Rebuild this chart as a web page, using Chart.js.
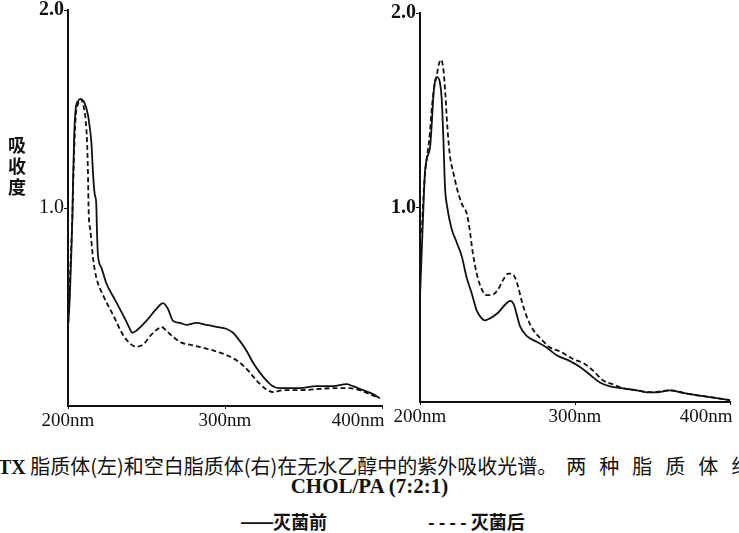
<!DOCTYPE html>
<html>
<head>
<meta charset="utf-8">
<script src="https://cdn.jsdelivr.net/npm/chart.js@4.4.0/dist/chart.umd.min.js"></script>
<style>
  html, body { margin: 0; padding: 0; background: #fff; }
  body { width: 739px; height: 533px; position: relative; overflow: hidden; color: #111; }
  .panel { position: absolute; top: 0; height: 430px; }
  #leftWrap { left: 0; width: 400px; }
  #rightWrap { left: 380px; width: 359px; }
  #yTitle {
    position: absolute; left: 7px; top: 134px; width: 20px;
    font: bold 18px "Noto Sans CJK SC"; line-height: 21px; text-align: center;
  }
  .cap { position: absolute; white-space: nowrap; }
  #cap1 { left: -2px; top: 456px; font: 20px "Noto Sans CJK SC"; line-height: 20px; }
  #cap1 .lat { font-family: "Liberation Serif"; font-weight: bold; }
  #cap1 .spaced { letter-spacing: 13px; margin-left: 9px; }
  #cap2 { left: 0; width: 739px; top: 476px; text-align: center; font: bold 21px "Liberation Serif"; line-height: 21px; }
  #legend1 { left: 240px; top: 512px; font: bold 18px "Noto Sans CJK SC"; line-height: 18px; }
  #legend1 .line { letter-spacing: -1px; font-size: 20px; }
  #legend2 { left: 428px; top: 512px; font: bold 18px "Noto Sans CJK SC"; line-height: 18px; }
  #legend2 .dash { letter-spacing: 4px; }
</style>
</head>
<body>
<div class="panel" id="leftWrap"><canvas id="leftChart" width="400" height="430"></canvas></div>
<div class="panel" id="rightWrap"><canvas id="rightChart" width="359" height="430"></canvas></div>
<div id="yTitle">吸<br>收<br>度</div>
<div class="cap" id="cap1"><span class="lat">TX</span> 脂质体(左)和空白脂质体(右)在无水乙醇中的紫外吸收光谱。<span class="spaced">两种脂质体组</span></div>
<div class="cap" id="cap2">CHOL/PA (7:2:1)</div>
<div class="cap" id="legend1"><span class="line">——</span>灭菌前</div>
<div class="cap" id="legend2"><span class="dash">----</span>灭菌后</div>
<script>
// 波长 (nm) 与吸收度，左图：TX 脂质体
const leftBeforeWl = [200, 201.1, 202.1, 202.8, 203.2, 204.0, 204.9, 206.4, 208.1, 210.6, 212.7, 213.8, 214.9, 215.9, 217.0, 218.0, 218.5, 219.1, 221.2, 224.4, 229.7, 235.0, 238.2, 241.0, 243.5, 249.9, 256.3, 260.5, 263.7, 266.9, 271.1, 275.4, 281.7, 288.1, 294.5, 300.8, 305.1, 309.3, 313.6, 317.8, 322.1, 326.3, 330.6, 334.8, 341.2, 347.6, 358.2, 368.8, 377.3, 381.5, 387.9, 394.3, 398.5];
const leftBeforeAbs = [0.40, 0.54, 0.77, 0.96, 1.13, 1.38, 1.50, 1.54, 1.55, 1.53, 1.47, 1.41, 1.33, 1.18, 1.07, 1.02, 0.87, 0.76, 0.70, 0.62, 0.54, 0.46, 0.41, 0.37, 0.38, 0.43, 0.49, 0.52, 0.49, 0.43, 0.42, 0.41, 0.42, 0.41, 0.40, 0.39, 0.37, 0.33, 0.28, 0.22, 0.17, 0.13, 0.10, 0.09, 0.09, 0.09, 0.10, 0.10, 0.11, 0.10, 0.08, 0.06, 0.04];
const leftAfterWl = [200, 201.5, 202.8, 203.6, 204.9, 206.6, 208.1, 210.0, 211.3, 212.1, 212.7, 213.2, 214.2, 215.9, 218.0, 222.3, 228.7, 235.0, 240.3, 243.5, 247.8, 253.1, 257.3, 259.4, 262.6, 266.9, 272.2, 277.5, 288.1, 296.6, 303.0, 309.3, 314.6, 320.0, 325.3, 330.6, 336.9, 347.6, 368.8, 379.4, 385.8, 392.1, 398.5];
const leftAfterAbs = [0.38, 0.70, 0.96, 1.21, 1.46, 1.53, 1.55, 1.51, 1.44, 1.34, 1.18, 0.97, 0.89, 0.75, 0.65, 0.56, 0.46, 0.36, 0.31, 0.30, 0.31, 0.36, 0.39, 0.40, 0.38, 0.35, 0.32, 0.31, 0.29, 0.27, 0.25, 0.22, 0.18, 0.13, 0.09, 0.07, 0.08, 0.08, 0.09, 0.09, 0.08, 0.06, 0.04];

// 右图：空白脂质体
const rightBeforeWl = [200, 202.2, 203.2, 204.7, 206.5, 207.5, 208.6, 209.7, 211.2, 212.9, 214.0, 215.1, 216.1, 217.6, 220.4, 223.7, 226.9, 230.1, 233.3, 236.6, 239.8, 241.9, 245.2, 250.5, 254.8, 258.1, 260.6, 262.4, 264.5, 268.8, 275.3, 281.7, 288.2, 296.8, 303.2, 309.7, 316.1, 322.6, 331.2, 339.8, 346.2, 352.7, 361.3, 367.7, 374.2, 382.8, 391.4, 400];
const rightBeforeAbs = [0.54, 1.00, 1.18, 1.26, 1.31, 1.42, 1.57, 1.65, 1.67, 1.64, 1.56, 1.35, 1.11, 1.00, 0.89, 0.82, 0.75, 0.64, 0.56, 0.47, 0.43, 0.42, 0.43, 0.46, 0.50, 0.52, 0.50, 0.45, 0.39, 0.34, 0.31, 0.28, 0.24, 0.21, 0.18, 0.14, 0.10, 0.08, 0.07, 0.06, 0.05, 0.05, 0.06, 0.05, 0.04, 0.03, 0.02, 0.01];
const rightAfterWl = [201.1, 202.6, 204.3, 206.0, 207.5, 209.0, 210.8, 212.3, 213.5, 215.1, 216.3, 217.6, 219.4, 221.5, 224.1, 226.9, 230.1, 231.8, 234.0, 236.6, 239.8, 243.0, 246.2, 250.5, 253.8, 257.0, 259.1, 261.3, 263.4, 265.6, 268.8, 273.1, 277.4, 283.9, 290.3, 298.9, 305.4, 311.8, 318.3, 324.7, 331.2, 339.8, 350, 361.3, 374.2, 382.8, 391.4, 400];
const rightAfterAbs = [0.87, 1.11, 1.25, 1.35, 1.50, 1.61, 1.68, 1.74, 1.76, 1.71, 1.59, 1.42, 1.26, 1.18, 1.09, 1.02, 0.97, 0.90, 0.77, 0.66, 0.58, 0.55, 0.55, 0.58, 0.63, 0.66, 0.66, 0.64, 0.59, 0.52, 0.44, 0.37, 0.33, 0.28, 0.26, 0.22, 0.20, 0.16, 0.11, 0.09, 0.07, 0.06, 0.05, 0.06, 0.04, 0.03, 0.02, 0.01];

// 坐标刻度
const xTicks = [200, 300, 400];
const yTicks = [1, 2];

const toPoints = (wl, abs) => wl.map((x, i) => ({ x: x, y: abs[i] }));

const serif = 'Liberation Serif';

// 每个面板的配置，坐标区的位置通过 afterFit 与 padding 控制
const makeChart = (canvasId, before, after, yWidth, xHeight, padTop, padRight, boldOne) => {
    return new Chart(document.getElementById(canvasId), {
        type: 'line',
        data: {
            datasets: [
                {
                    data: before,
                    borderColor: '#111',
                    borderWidth: 1.8,
                    pointRadius: 0,
                    cubicInterpolationMode: 'monotone',
                    fill: false
                },
                {
                    data: after,
                    borderColor: '#111',
                    borderWidth: 1.8,
                    borderDash: [5, 3],
                    pointRadius: 0,
                    cubicInterpolationMode: 'monotone',
                    fill: false
                }
            ]
        },
        options: {
            responsive: false,
            animation: false,
            layout: { padding: { top: padTop, right: padRight, left: 0, bottom: 0 } },
            plugins: {
                legend: { display: false },
                tooltip: { enabled: false }
            },
            scales: {
                x: {
                    type: 'linear',
                    min: 200,
                    max: 400,
                    afterBuildTicks: (scale) => { scale.ticks = xTicks.map(v => ({ value: v })); },
                    afterFit: (scale) => {
                        scale.height = xHeight;
                        scale.paddingLeft = 0;
                        scale.paddingRight = 0;
                    },
                    border: { display: true, color: '#111', width: 2 },
                    grid: { drawOnChartArea: false, drawTicks: true, tickLength: 3, color: '#111' },
                    ticks: {
                        color: '#111',
                        maxRotation: 0,
                        autoSkip: false,
                        padding: 1,
                        font: { family: serif, size: 19 },
                        // 400nm 标签在原图中略向左偏
                        callback: (v) => v === 400 ? v + 'nm\u2003\u2003\u2002' : v + 'nm'
                    }
                },
                y: {
                    min: 0,
                    max: 2,
                    afterBuildTicks: (scale) => { scale.ticks = yTicks.map(v => ({ value: v })); },
                    afterFit: (scale) => {
                        scale.width = yWidth;
                        scale.paddingTop = 0;
                        scale.paddingBottom = 0;
                    },
                    border: { display: true, color: '#111', width: 2 },
                    grid: { drawOnChartArea: false, drawTicks: true, tickLength: 4, color: '#111' },
                    ticks: {
                        color: '#111',
                        padding: 0,
                        font: (ctx) => ({
                            family: serif,
                            size: 20,
                            weight: (ctx.tick && ctx.tick.value === 1 && !boldOne) ? 'normal' : 'bold'
                        }),
                        callback: (v) => v.toFixed(1)
                    }
                }
            }
        }
    });
};

makeChart('leftChart',
    toPoints(leftBeforeWl, leftBeforeAbs),
    toPoints(leftAfterWl, leftAfterAbs),
    68, 24, 10, 18, false);

makeChart('rightChart',
    toPoints(rightBeforeWl, rightBeforeAbs),
    toPoints(rightAfterWl, rightAfterAbs),
    40, 28, 13, 9, true);
</script>
</body>
</html>
